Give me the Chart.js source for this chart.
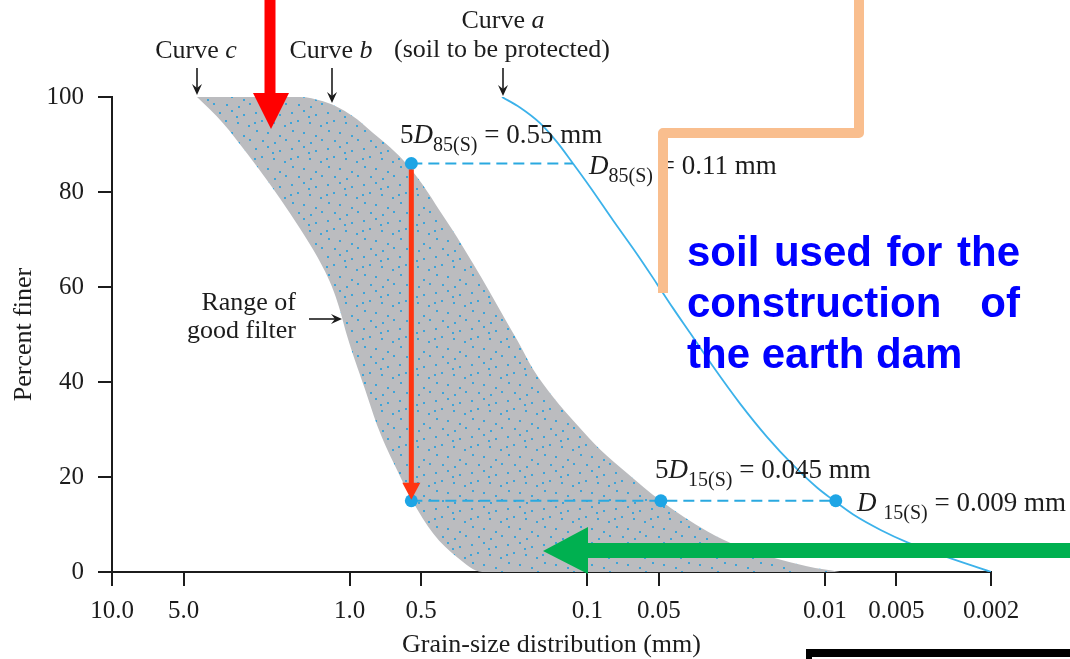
<!DOCTYPE html>
<html><head><meta charset="utf-8">
<script src="https://cdn.jsdelivr.net/npm/chart.js@4.4.1/dist/chart.umd.min.js"></script>
<style>html,body{margin:0;padding:0;background:#fff;}canvas{display:block;}</style>
</head><body>
<canvas id="c" width="1070" height="659"></canvas>
<script>
// ---------- data ----------
const xTickValues = [10, 5, 1, 0.5, 0.1, 0.05, 0.01, 0.005, 0.002];
const xTickLabels = ['10.0', '5.0', '1.0', '0.5', '0.1', '0.05', '0.01', '0.005', '0.002'];
const yTickValues = [0, 20, 40, 60, 80, 100];

// Curve a (soil to be protected)
const curveASize = [0.2285, 0.192, 0.158, 0.134, 0.1148, 0.0972, 0.0778, 0.0617, 0.0508, 0.0435, 0.0369, 0.0296, 0.0228, 0.0175, 0.0136, 0.0108, 0.0092, 0.0076, 0.0058, 0.0045, 0.0033, 0.002];
const curveAPct  = [100, 97.8, 94.5, 90.5, 86.0, 81.0, 74.0, 66.9, 60.6, 55.5, 50.3, 43.3, 35.5, 28.4, 22.5, 17.8, 15.1, 12.1, 8.8, 6.25, 3.7, 0];

// Band upper boundary (top edge + curve b)
const bandUpperSize = [4.39, 1.62, 1.294, 1.096, 0.930, 0.797, 0.676, 0.573, 0.491, 0.417, 0.353, 0.303, 0.257, 0.218, 0.197, 0.169, 0.139, 0.110, 0.0883, 0.0679, 0.0494, 0.0313, 0.0228, 0.0119, 0.00863];
const bandUpperPct  = [100, 100, 99.1, 97.6, 95.3, 92.4, 89.4, 85.8, 81.4, 76.0, 70.5, 65.0, 58.9, 52.6, 48.8, 42.7, 36.8, 30.9, 25.8, 20.8, 15.1, 8.6, 5.3, 1.2, 0];

// Band lower boundary (curve c + bottom edge)
const bandLowerSize = [4.39, 3.41, 2.70, 2.16, 1.78, 1.47, 1.27, 1.163, 1.092, 1.029, 0.950, 0.863, 0.754, 0.631, 0.546, 0.445, 0.353, 0.277, 0.00863];
const bandLowerPct  = [100, 94.5, 88.1, 81.6, 75.5, 69.0, 63.3, 58.9, 54.7, 50.0, 44.6, 38.6, 30.0, 21.4, 15.1, 8.1, 3.1, 0, 0];

// Marked points and guide lines
const markerSize = [0.55, 0.55, 0.049, 0.009];
const markerPct  = [86, 15, 15, 15];
const guide85Size = [0.55, 0.115];
const guide85Pct  = [86, 86];
const guide15Size = [0.55, 0.009];
const guide15Pct  = [15, 15];

// ---------- helpers ----------
const zip = (xs, ys) => xs.map((x, i) => ({x: x, y: ys[i]}));
const SERIF = "'Liberation Serif','Times New Roman',Times,serif";
const SANS = "'Liberation Sans',Arial,Helvetica,sans-serif";
const INK = '#1c1c1c';

const canvas = document.getElementById('c');
const ctx = canvas.getContext('2d');

function makeStipple() {
  const c = document.createElement('canvas');
  c.width = 36; c.height = 36;
  const g = c.getContext('2d');
  g.fillStyle = '#bbbcbf';
  g.fillRect(0, 0, 36, 36);
  g.fillStyle = 'rgba(40,160,220,0.85)';
  const spots = [[3,4],[15,2],[27,6],[9,12],[21,14],[32,17],[4,22],[15,24],[27,27],[10,32],[22,34],[33,31],[2,14],[20,8]];
  spots.forEach(s => g.fillRect(s[0], s[1], 2, 2));
  return ctx.createPattern(c, 'repeat');
}
const stipple = makeStipple();

function fontFor(p, main, sub) {
  return (p.i ? 'italic ' : '') + (p.sub ? sub : main) + 'px ' + SERIF;
}
function richWidth(c, parts, main, sub) {
  let w = 0;
  parts.forEach(p => { c.font = fontFor(p, main, sub); w += c.measureText(p.t).width; });
  return w;
}
function drawRich(c, x, y, parts, align, main, sub) {
  main = main || 26; sub = sub || 20;
  let cx = x;
  if (align === 'center') cx = x - richWidth(c, parts, main, sub) / 2;
  c.textBaseline = 'alphabetic';
  c.textAlign = 'left';
  parts.forEach(p => {
    c.font = fontFor(p, main, sub);
    c.fillText(p.t, cx, y + (p.sub ? 8 : 0));
    cx += c.measureText(p.t).width;
  });
}
function smallArrow(c, x1, y1, x2, y2) {
  const a = Math.atan2(y2 - y1, x2 - x1);
  c.save();
  c.strokeStyle = INK; c.fillStyle = INK; c.lineWidth = 1.6;
  c.beginPath(); c.moveTo(x1, y1); c.lineTo(x2 - 5 * Math.cos(a), y2 - 5 * Math.sin(a)); c.stroke();
  c.translate(x2, y2); c.rotate(a);
  c.beginPath(); c.moveTo(0, 0); c.lineTo(-11, -5); c.lineTo(-7, 0); c.lineTo(-11, 5); c.closePath(); c.fill();
  c.restore();
}
function drawJustified(c, words, x, y, width) {
  const total = words.reduce((s, w) => s + c.measureText(w).width, 0);
  const gap = (width - total) / (words.length - 1);
  let cx = x;
  words.forEach(w => { c.fillText(w, cx, y); cx += c.measureText(w).width + gap; });
}

const overlay = {
  id: 'overlay',
  afterDatasetsDraw(chart) {
    const c = chart.ctx;
    const xs = chart.scales.x, ys = chart.scales.y;
    // red-orange vertical arrow between the two 5D points
    const ax = xs.getPixelForValue(markerSize[0]);
    const ay0 = ys.getPixelForValue(markerPct[0]) + 6;
    const ay1 = ys.getPixelForValue(markerPct[1]) - 1;
    c.save();
    c.fillStyle = '#ff3410';
    c.fillRect(ax - 2.5, ay0, 5, ay1 - ay0 - 14);
    c.beginPath(); c.moveTo(ax - 9, ay1 - 17); c.lineTo(ax + 9, ay1 - 17); c.lineTo(ax, ay1); c.closePath(); c.fill();
    c.restore();
  },
  afterDraw(chart) {
    const c = chart.ctx;
    c.save();
    c.fillStyle = INK;
    // curve labels
    drawRich(c, 196, 58, [{t: 'Curve '}, {t: 'c', i: true}], 'center');
    drawRich(c, 331, 58, [{t: 'Curve '}, {t: 'b', i: true}], 'center');
    drawRich(c, 503, 28, [{t: 'Curve '}, {t: 'a', i: true}], 'center');
    drawRich(c, 502, 57, [{t: '(soil to be protected)'}], 'center');
    smallArrow(c, 197, 68, 197, 95);
    smallArrow(c, 332, 68, 332, 103);
    smallArrow(c, 503, 68, 503, 96);
    // range of good filter
    c.font = '26px ' + SERIF; c.textAlign = 'right'; c.textBaseline = 'alphabetic';
    c.fillText('Range of', 296, 310);
    c.fillText('good filter', 296, 338);
    smallArrow(c, 309, 319, 342, 319);
    // D labels
    drawRich(c, 400, 143, [{t: '5'}, {t: 'D', i: true}, {t: '85(S)', sub: true}, {t: ' = 0.55 mm'}], 'left', 27, 20);
    drawRich(c, 589, 174, [{t: 'D', i: true}, {t: '85(S)', sub: true}, {t: ' = 0.11 mm'}], 'left', 27, 20);
    drawRich(c, 655, 478, [{t: '5'}, {t: 'D', i: true}, {t: '15(S)', sub: true}, {t: ' = 0.045 mm'}], 'left', 27, 20);
    drawRich(c, 857, 511, [{t: 'D', i: true}, {t: ' '}, {t: '15(S)', sub: true}, {t: ' = 0.009 mm'}], 'left', 27, 20);
    // peach bracket
    c.strokeStyle = '#f9be8e'; c.lineWidth = 10; c.lineJoin = 'round'; c.lineCap = 'butt';
    c.beginPath(); c.moveTo(859, 0); c.lineTo(859, 133); c.lineTo(663, 133); c.lineTo(663, 293); c.stroke();
    // blue note
    c.fillStyle = '#0000ff'; c.font = 'bold 42px ' + SANS; c.textAlign = 'left';
    drawJustified(c, ['soil', 'used', 'for', 'the'], 687, 266, 333);
    drawJustified(c, ['construction', 'of'], 687, 317, 333);
    c.fillText('the earth dam', 687, 368);
    // big red arrow
    c.fillStyle = '#ff0000';
    c.fillRect(264.5, 0, 11, 94);
    c.beginPath(); c.moveTo(253, 93); c.lineTo(289, 93); c.lineTo(271, 129); c.closePath(); c.fill();
    // green arrow
    c.fillStyle = '#00b050';
    c.fillRect(586, 543, 484, 15);
    c.beginPath(); c.moveTo(588, 527); c.lineTo(588, 574); c.lineTo(543, 551); c.closePath(); c.fill();
    // black bar bottom right
    c.fillStyle = '#000';
    c.fillRect(806, 649, 264, 8);
    c.fillRect(806, 649, 6, 10);
    c.restore();
  }
};

new Chart(ctx, {
  type: 'line',
  data: {
    datasets: [
      {label: 'band upper', data: zip(bandUpperSize, bandUpperPct), fill: '+1', backgroundColor: stipple,
       borderColor: 'rgba(0,0,0,0)', borderWidth: 0, pointRadius: 0, cubicInterpolationMode: 'monotone', order: 10},
      {label: 'band lower', data: zip(bandLowerSize, bandLowerPct), fill: false,
       borderColor: 'rgba(0,0,0,0)', borderWidth: 0, pointRadius: 0, cubicInterpolationMode: 'monotone', order: 9},
      {label: 'curve a', data: zip(curveASize, curveAPct), fill: false, borderColor: '#3cb2ea', borderWidth: 1.8,
       pointRadius: 0, cubicInterpolationMode: 'monotone', order: 5},
      {label: 'guide 85', data: zip(guide85Size, guide85Pct), fill: false, borderColor: '#2aa9e0', borderWidth: 1.9,
       borderDash: [11, 6], pointRadius: 0, order: 4},
      {label: 'guide 15', data: zip(guide15Size, guide15Pct), fill: false, borderColor: '#2aa9e0', borderWidth: 1.9,
       borderDash: [11, 6], pointRadius: 0, order: 3},
      {label: 'markers', data: zip(markerSize, markerPct), showLine: false, pointRadius: 6.5,
       pointBackgroundColor: '#1ea5e5', pointBorderWidth: 0, order: 1}
    ]
  },
  options: {
    responsive: false, animation: false, devicePixelRatio: 1,
    layout: {padding: {left: 0, top: 97, right: 79, bottom: 0}},
    plugins: {legend: {display: false}, tooltip: {enabled: false}},
    scales: {
      x: {
        type: 'logarithmic', reverse: true, min: 0.002, max: 10,
        afterBuildTicks: s => { s.ticks = xTickValues.map(v => ({value: v})); },
        afterFit: s => { s.height = 87; },
        ticks: {autoSkip: false, maxRotation: 0, minRotation: 0, padding: 10, color: INK,
                font: {family: SERIF, size: 25}, callback: (v, i) => xTickLabels[i]},
        grid: {drawOnChartArea: false, drawTicks: true, tickLength: 14, color: INK, lineWidth: 2},
        border: {display: true, color: INK, width: 2},
        title: {display: true, text: 'Grain-size distribution (mm)', color: INK,
                font: {family: SERIF, size: 26, lineHeight: 1.1}, padding: {top: 0, bottom: 0}}
      },
      y: {
        type: 'linear', min: 0, max: 100,
        afterBuildTicks: s => { s.ticks = yTickValues.map(v => ({value: v})); },
        afterFit: s => { s.width = 112; },
        ticks: {padding: 14, color: INK, font: {family: SERIF, size: 25}},
        grid: {drawOnChartArea: false, drawTicks: true, tickLength: 14, color: INK, lineWidth: 2},
        border: {display: true, color: INK, width: 2},
        title: {display: true, text: 'Percent finer', color: INK,
                font: {family: SERIF, size: 26}, padding: {top: 9, bottom: 0}}
      }
    }
  },
  plugins: [overlay]
});
</script>
</body></html>
